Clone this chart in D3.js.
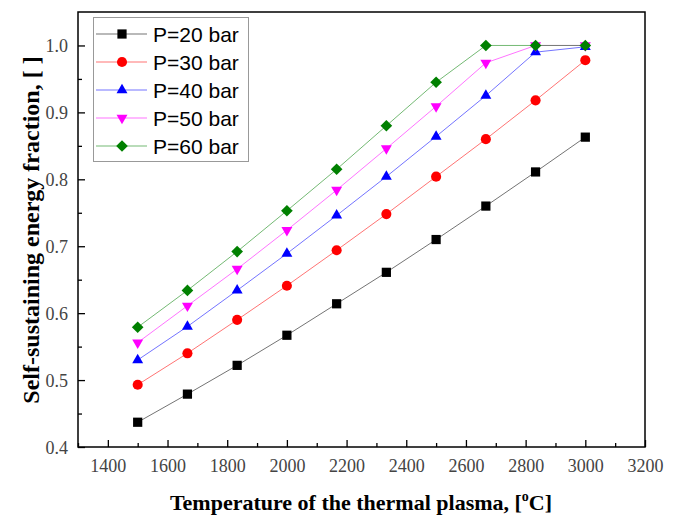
<!DOCTYPE html>
<html><head><meta charset="utf-8">
<script src="https://cdn.jsdelivr.net/npm/d3@7"></script>
<style>body{margin:0;background:#fff}</style>
</head><body>
<script>
const temps = [1500, 1666.7, 1833.3, 2000, 2166.7, 2333.3, 2500, 2666.7, 2833.3, 3000];
const seriesNames = ["P=20 bar", "P=30 bar", "P=40 bar", "P=50 bar", "P=60 bar"];
const p20 = [0.437, 0.479, 0.522, 0.567, 0.614, 0.661, 0.710, 0.760, 0.811, 0.863];
const p30 = [0.493, 0.540, 0.590, 0.641, 0.694, 0.748, 0.804, 0.860, 0.918, 0.978];
const p40 = [0.530, 0.580, 0.634, 0.689, 0.746, 0.804, 0.864, 0.925, 0.990, 0.998];
const p50 = [0.556, 0.611, 0.666, 0.724, 0.784, 0.846, 0.909, 0.974, 1.000, 1.000];
const p60 = [0.579, 0.634, 0.692, 0.753, 0.815, 0.880, 0.945, 1.000, 1.000, 1.000];
const xTicks = [1400, 1600, 1800, 2000, 2200, 2400, 2600, 2800, 3000, 3200];
const yTicks = [0.4, 0.5, 0.6, 0.7, 0.8, 0.9, 1.0];

const colors = ["#000000", "#ff0000", "#0000ff", "#ff00ff", "#008000"];
const symbols = ["square", "circle", "up", "down", "diamond"];
const allVals = [p20, p30, p40, p50, p60];

const W = 676, H = 516;
const m = {l: 78, r: 31, t: 12, b: 69};
const svg = d3.select("body").append("svg").attr("width", W).attr("height", H);

const x = d3.scaleLinear().domain([1300, 3200]).range([m.l, W - m.r]);
const y = d3.scaleLinear().domain([0.4, 1.05]).range([H - m.b, m.t]);

// axes
const gx = svg.append("g").attr("transform", `translate(0,${H - m.b})`);
gx.call(d3.axisBottom(x).tickValues(d3.range(1300, 3201, 100)).tickSize(0).tickFormat(""));
gx.select(".domain").remove();
gx.selectAll(".tick").append("line")
  .attr("y1", 0).attr("y2", d => (d % 200 === 0 ? -7 : -4))
  .attr("stroke", "#000").attr("stroke-width", 1.3);
gx.selectAll(".tick").filter(d => xTicks.includes(d)).append("text")
  .attr("y", 25).attr("text-anchor", "middle")
  .attr("font-family", "Liberation Serif, Times New Roman, serif")
  .attr("font-size", 18).attr("fill", "#444")
  .text(d => d);

const gy = svg.append("g").attr("transform", `translate(${m.l},0)`);
gy.call(d3.axisLeft(y).tickValues(d3.range(0, 13).map(i => 0.4 + i * 0.05)).tickSize(0).tickFormat(""));
gy.select(".domain").remove();
gy.selectAll(".tick").append("line")
  .attr("x1", 0).attr("x2", (d, i) => (i % 2 === 0 ? 7 : 4))
  .attr("stroke", "#000").attr("stroke-width", 1.3);
gy.selectAll(".tick").filter((d, i) => i % 2 === 0).append("text")
  .attr("x", -10).attr("dy", "0.35em").attr("text-anchor", "end")
  .attr("font-family", "Liberation Serif, Times New Roman, serif")
  .attr("font-size", 18).attr("fill", "#444")
  .text(d => d3.format(".1f")(d));

// frame
svg.append("rect").attr("x", m.l).attr("y", m.t)
  .attr("width", W - m.r - m.l).attr("height", H - m.b - m.t)
  .attr("fill", "none").attr("stroke", "#000").attr("stroke-width", 1.5);

function sym(k) {
  if (k === "square") return d3.symbol().type(d3.symbolSquare).size(85)();
  if (k === "circle") return d3.symbol().type(d3.symbolCircle).size(80)();
  if (k === "diamond") return d3.symbol().type(d3.symbolSquare).size(68)();
  return d3.symbol().type(d3.symbolTriangle).size(52)();
}
function rot(k) {
  return k === "down" ? " rotate(180)" : (k === "diamond" ? " rotate(45)" : "");
}

const line = d3.line().x(d => x(d[0])).y(d => y(d[1]));
allVals.forEach((vals, s) => {
  const pts = temps.map((t, i) => [t, vals[i]]);
  svg.append("path").attr("d", line(pts)).attr("fill", "none")
    .attr("stroke", colors[s]).attr("stroke-opacity", 0.55).attr("stroke-width", 1);
  svg.selectAll(null).data(pts).enter().append("path")
    .attr("d", sym(symbols[s]))
    .attr("transform", d => `translate(${x(d[0])},${y(d[1])})${rot(symbols[s])}`)
    .attr("fill", colors[s]);
});

// legend
const lg = svg.append("g");
lg.append("rect").attr("x", 93.5).attr("y", 17.5).attr("width", 155).attr("height", 144)
  .attr("fill", "#fff").attr("stroke", "#999").attr("stroke-width", 1);
seriesNames.forEach((n, s) => {
  const yy = 34 + s * 28;
  lg.append("line").attr("x1", 96).attr("x2", 147).attr("y1", yy).attr("y2", yy)
    .attr("stroke", colors[s]).attr("stroke-opacity", 0.55).attr("stroke-width", 1);
  lg.append("path").attr("d", sym(symbols[s]))
    .attr("transform", `translate(122,${yy})${rot(symbols[s])}`)
    .attr("fill", colors[s]);
  lg.append("text").attr("x", 153).attr("y", yy).attr("dy", "0.36em")
    .attr("font-family", "Liberation Sans, Arial, sans-serif").attr("font-size", 21)
    .attr("fill", "#000").text(n);
});

// axis titles
const xt = svg.append("text").attr("x", 361).attr("y", 510)
  .attr("text-anchor", "middle")
  .attr("font-family", "Liberation Serif, Times New Roman, serif")
  .attr("font-size", 22).attr("font-weight", "bold");
xt.append("tspan").text("Temperature of the thermal plasma, [");
xt.append("tspan").attr("font-size", 14).attr("dy", -9).text("o");
xt.append("tspan").attr("dy", 9).text("C]");

svg.append("text").attr("transform", `translate(39,230) rotate(-90)`)
  .attr("text-anchor", "middle")
  .attr("font-family", "Liberation Serif, Times New Roman, serif")
  .attr("font-size", 24).attr("font-weight", "bold")
  .text("Self-sustaining energy fraction, [ ]");
</script>
</body></html>
